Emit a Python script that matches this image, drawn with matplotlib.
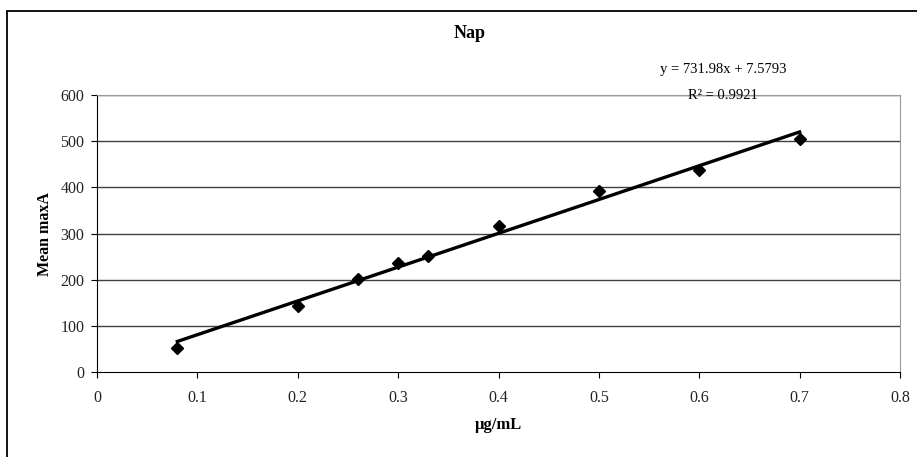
import matplotlib.pyplot as plt
from matplotlib.patches import Rectangle

plt.rcParams["font.family"] = ["Liberation Serif", "DejaVu Serif"]

# Calibration data for Nap
conc = [0.08, 0.2, 0.26, 0.3, 0.33, 0.4, 0.5, 0.6, 0.7]
mean_maxa = [51, 144, 201, 237, 251, 317, 392, 437, 504]

# Linear trendline reported on the chart
slope = 731.98
intercept = 7.5793
r_squared = 0.9921

x_ticks = [0, 0.1, 0.2, 0.3, 0.4, 0.5, 0.6, 0.7, 0.8]
x_tick_labels = ["0", "0.1", "0.2", "0.3", "0.4", "0.5", "0.6", "0.7", "0.8"]
y_ticks = [0, 100, 200, 300, 400, 500, 600]

W, H = 917, 457
fig = plt.figure(figsize=(W / 100, H / 100), dpi=100)

# outer chart frame (only left/top edges fall inside the image)
fig.patches.append(Rectangle((7 / W, -0.1), 1.2, 1.1 - 11 / H,
                             transform=fig.transFigure, fill=False,
                             edgecolor="black", linewidth=1.3))

ax = fig.add_axes([97 / W, 1 - 372 / H, (900 - 97) / W, (372 - 95) / H])

for v in y_ticks[1:]:
    ax.axhline(v, color="#404040", linewidth=1.0, zorder=1)

fit_x = [min(conc), max(conc)]
fit_y = [slope * v + intercept for v in fit_x]
ax.plot(fit_x, fit_y, color="black", linewidth=2.4, zorder=3)
ax.plot(conc, mean_maxa, linestyle="none", marker="D", markersize=6.5,
        color="black", zorder=4)

ax.set_xlim(0, 0.8)
ax.set_ylim(0, 600)
ax.set_xticks(x_ticks)
ax.set_xticklabels(x_tick_labels)
ax.set_yticks(y_ticks)
ax.tick_params(axis="x", direction="out", length=4, pad=9, labelsize=11.5,
               labelcolor="#222222")
ax.tick_params(axis="y", direction="out", length=4, pad=5, labelsize=11.5,
               labelcolor="#222222")

ax.spines["left"].set_color("black")
ax.spines["bottom"].set_color("black")
ax.spines["top"].set_color("#999999")
ax.spines["right"].set_color("#999999")

fig.text(470 / W, 1 - 33 / H, "Nap", ha="center", va="center",
         fontsize=13, fontweight="bold")
fig.text(498 / W, 1 - 425 / H, "µg/mL", ha="center", va="center",
         fontsize=12, fontweight="bold")
fig.text(45 / W, 1 - 234 / H, "Mean maxA", ha="center", va="center",
         rotation=90, fontsize=11.5, fontweight="bold")
fig.text(723 / W, 1 - 70 / H, f"y = {slope}x + {intercept}", ha="center",
         va="center", fontsize=10.5)
fig.text(723 / W, 1 - 96 / H, f"R² = {r_squared}", ha="center",
         va="center", fontsize=10.5)

fig.savefig("out.png", dpi=100)
